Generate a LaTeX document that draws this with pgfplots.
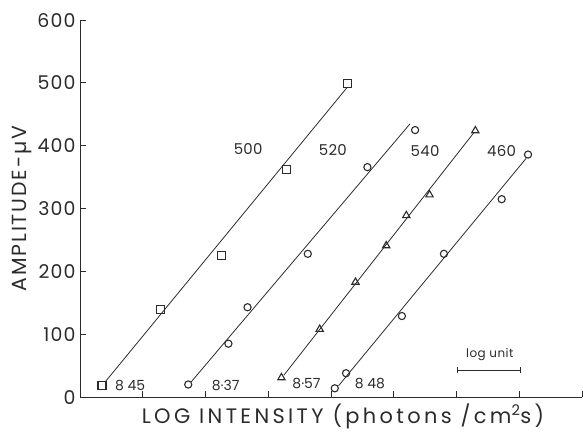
\documentclass[border=0pt]{standalone}
\usepackage{fontspec}
\setmainfont{Poppins}
\usepackage{pgfplots}
\pgfplotsset{compat=1.18}
\definecolor{ink}{HTML}{2B2B2B}
\begin{document}
\begin{tikzpicture}
\begin{axis}[
  scale only axis, width=502bp, height=377bp,
  xmin=0, xmax=8, ymin=0, ymax=600,
  axis lines=left,
  axis line style={-, line width=0.9pt, draw=ink},
  xtick={1,...,8}, xticklabels={},
  ytick={0,100,...,600},
  tick align=inside, major tick length=6bp,
  tick style={line width=0.9pt, draw=ink},
  /pgf/number format/assume math mode=true,
  yticklabel style={font=\fontsize{19}{19}\selectfont\addfontfeature{LetterSpace=6},
    text=ink, xshift=-1bp},
  every axis y label/.style={at={(axis description cs:-0.106,0.5)}, rotate=90, anchor=base,
    font=\fontsize{20.5}{20.5}\selectfont\addfontfeature{LetterSpace=9}, text=ink},
  every axis x label/.style={at={(axis description cs:0.524,-0.070)}, anchor=base,
    font=\fontsize{21}{21}\selectfont\addfontfeature{LetterSpace=16}, text=ink},
  ylabel={AMPLITUDE-µV},
  xlabel={LOG INTENSITY (photons /cm\textsuperscript{2}s)},
  clip=false,
  every axis plot/.append style={draw=ink, line width=0.8pt},
]
% fitted lines
\addplot[no marks] coordinates {(0.40,24) (4.25,492)};
\addplot[no marks] coordinates {(1.77,24) (5.26,435)};
\addplot[no marks] coordinates {(3.25,35) (6.27,420)};
\addplot[no marks] coordinates {(4.12,18) (7.11,380)};
% 500 nm
\addplot[only marks, mark=square, mark size=4bp, mark options={fill=white, line width=1.1pt}]
  coordinates {(0.35,19) (1.28,140) (2.26,225) (3.29,362) (4.26,499)};
% 520 nm
\addplot[only marks, mark=o, mark size=3.6bp, mark options={fill=white, line width=1.1pt}]
  coordinates {(1.725,20) (2.365,85) (2.67,143) (3.63,228) (4.58,366) (5.34,425)};
% 540 nm
\addplot[only marks, mark=triangle, mark size=4.2bp, mark options={fill=white, line width=1.1pt}]
  coordinates {(3.21,31) (3.82,108) (4.39,183) (4.88,241) (5.20,289) (5.57,322) (6.30,424)};
% 460 nm
\addplot[only marks, mark=o, mark size=3.6bp, mark options={fill=white, line width=1.1pt}]
  coordinates {(4.06,14) (4.24,38) (5.13,129) (5.80,228) (6.72,315) (7.14,386)};
% wavelength labels
\begin{scope}[every node/.style={font=\fontsize{15}{15}\selectfont\addfontfeature{LetterSpace=2}, text=ink}]
\node at (axis cs:2.68,395) {500};
\node at (axis cs:4.03,393) {520};
\node at (axis cs:5.50,392) {540};
\node at (axis cs:6.72,392) {460};
\end{scope}
\begin{scope}[every node/.style={font=\fontsize{14}{14}\selectfont, text=ink}]
\node at (axis cs:0.80,19) {8 45};
\node at (axis cs:2.32,18) {8·37};
\node at (axis cs:3.61,21) {8·57};
\node at (axis cs:4.62,22) {8 48};
\end{scope}
% log unit scale bar
\draw[ink, line width=0.8pt] (axis cs:6.02,43) -- (axis cs:7.02,43);
\draw[ink, line width=0.8pt] (axis cs:6.02,38) -- (axis cs:6.02,48);
\draw[ink, line width=0.8pt] (axis cs:7.02,38) -- (axis cs:7.02,48);
\node[font=\fontsize{12}{12}\selectfont\addfontfeature{LetterSpace=4}, text=ink] at (axis cs:6.53,68) {log unit};
\coordinate (bl) at (axis cs:-1.275,-54);
\coordinate (tr) at (axis cs:8.016,632);
\end{axis}
\pgfresetboundingbox
\path[use as bounding box] (bl) rectangle (tr);
\end{tikzpicture}
\end{document}
